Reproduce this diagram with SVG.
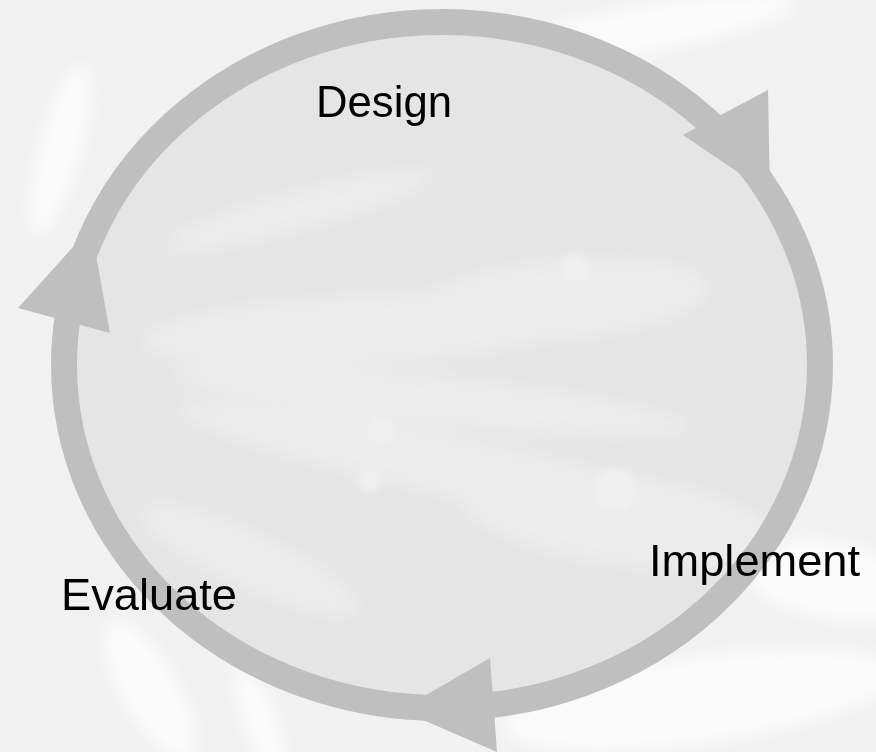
<svg xmlns="http://www.w3.org/2000/svg" width="876" height="752" viewBox="0 0 876 752">
  <style>
    .label { font-family: "Liberation Sans", Arial, sans-serif; font-size: 45px; fill: #000000; }
    .ring { fill: none; stroke: #bfbfbf; stroke-width: 26; }
    .head { fill: #bfbfbf; stroke: none; }
  </style>
  <defs>
    <filter id="soft" x="-30%" y="-30%" width="160%" height="160%">
      <feGaussianBlur stdDeviation="9"/>
    </filter>
    <filter id="softer" x="-30%" y="-30%" width="160%" height="160%">
      <feGaussianBlur stdDeviation="4"/>
    </filter>
  </defs>

  <!-- textured backdrop -->
  <g id="backdrop">
    <rect x="0" y="0" width="876" height="752" fill="#f1f1f1"/>
    <g filter="url(#soft)" fill="#fafafa">
      <ellipse cx="60" cy="150" rx="22" ry="90" transform="rotate(15 60 150)"/>
      <ellipse cx="830" cy="580" rx="90" ry="40" transform="rotate(10 830 580)"/>
      <ellipse cx="700" cy="700" rx="200" ry="45" transform="rotate(-8 700 700)"/>
      <ellipse cx="150" cy="690" rx="30" ry="80" transform="rotate(-30 150 690)"/>
      <ellipse cx="260" cy="720" rx="18" ry="60" transform="rotate(-20 260 720)"/>
      <ellipse cx="640" cy="30" rx="160" ry="25" transform="rotate(-10 640 30)"/>
    </g>
  </g>

  <!-- filled disc inside the cycle -->
  <g id="disc">
    <ellipse cx="442" cy="365" rx="378" ry="343" fill="#e5e5e5"/>
    <g filter="url(#soft)" fill="#ececec">
      <ellipse cx="360" cy="330" rx="220" ry="35" transform="rotate(-3 360 330)"/>
      <ellipse cx="560" cy="300" rx="150" ry="40" transform="rotate(-5 560 300)"/>
      <ellipse cx="470" cy="470" rx="300" ry="30" transform="rotate(12 470 470)"/>
      <ellipse cx="620" cy="520" rx="160" ry="45" transform="rotate(8 620 520)"/>
      <ellipse cx="300" cy="210" rx="140" ry="20" transform="rotate(-15 300 210)"/>
      <ellipse cx="250" cy="560" rx="120" ry="28" transform="rotate(25 250 560)"/>
      <ellipse cx="430" cy="400" rx="260" ry="25" transform="rotate(6 430 400)"/>
    </g>
    <g filter="url(#softer)" fill="#efefef">
      <circle cx="575" cy="268" r="14"/>
      <circle cx="380" cy="430" r="14"/>
      <circle cx="370" cy="480" r="12"/>
      <circle cx="615" cy="490" r="22"/>
    </g>
  </g>

  <!-- cycle ring and arrowheads -->
  <g id="connectors">
    <ellipse class="ring" cx="442" cy="365" rx="378" ry="343"/>
    <polygon class="head" points="683,135 768,90 770,194"/>
    <polygon class="head" points="18,308 110,333 91,227"/>
    <polygon class="head" points="490,658 497,752 400,710"/>
  </g>

  <g id="design">
    <text class="label" x="316" y="117" textLength="136" lengthAdjust="spacingAndGlyphs">Design</text>
  </g>
  <g id="implement">
    <text class="label" x="649" y="576" textLength="211" lengthAdjust="spacingAndGlyphs">Implement</text>
  </g>
  <g id="evaluate">
    <text class="label" x="61" y="610" textLength="176" lengthAdjust="spacingAndGlyphs">Evaluate</text>
  </g>
</svg>
